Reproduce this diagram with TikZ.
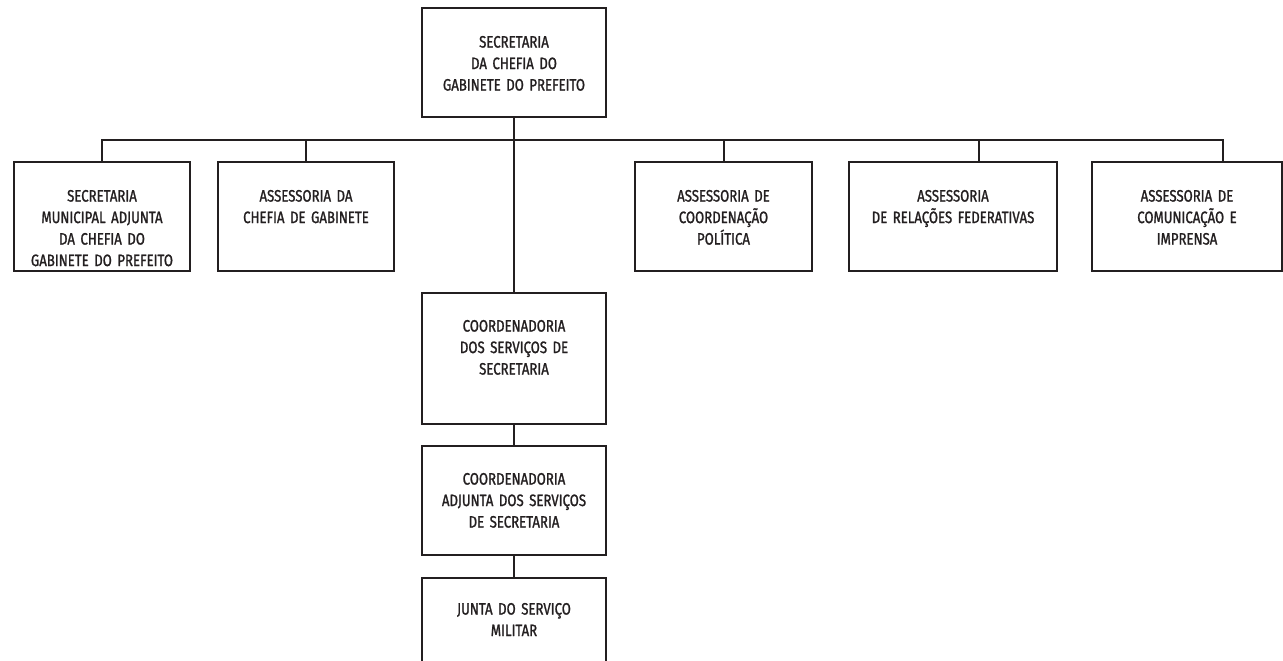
\documentclass[tikz,border=0pt]{standalone}
\usepackage{fontspec}
\setmainfont{Fira Sans}[FakeStretch=0.80, FakeBold=1.3]
\definecolor{ink}{HTML}{231F20}
\begin{document}
\begin{tikzpicture}[x=1pt,y=-1pt,
  line width=2.6pt, draw=ink, line cap=rect,
  box/.style={draw=ink, line width=2.6pt, rectangle, inner sep=0pt},
  txt/.style={anchor=north, inner sep=0pt, text width=#1, align=center,
    text=ink, font=\fontsize{16.5}{21.5}\selectfont},
  txt/.default=200pt]
\useasboundingbox (0,0) rectangle (1283,661);

% helper: a box given by its left/right/top/bottom edges
\newcommand\orgbox[5]{%
  \node[box, minimum width={#3-#2}, minimum height={#5-#4}]
    (#1) at ({(#2+#3)/2},{(#4+#5)/2}) {};}

% top unit
\orgbox{top}{422}{606}{8}{117}
\node[txt] (ttop) at ([yshift=-28pt]top.north) {SECRETARIA\\DA CHEFIA DO\\GABINETE DO PREFEITO};

% first row
\orgbox{b1}{14}{190}{162}{271}
\orgbox{b2}{218}{394}{162}{271}
\orgbox{b4}{635}{812}{162}{271}
\orgbox{b5}{849}{1057}{162}{271}
\orgbox{b6}{1092}{1282}{162}{271}

\node[txt] (t1) at ([yshift=-28pt]b1.north) {SECRETARIA\\MUNICIPAL ADJUNTA\\DA CHEFIA DO\\GABINETE DO PREFEITO};
\node[txt] (t2) at ([yshift=-28pt]b2.north) {ASSESSORIA DA\\CHEFIA DE GABINETE};
\node[txt] (t4) at ([yshift=-28pt]b4.north) {ASSESSORIA DE\\COORDENAÇÃO\\POLÍTICA};
\node[txt] (t5) at ([yshift=-28pt]b5.north) {ASSESSORIA\\DE RELAÇÕES FEDERATIVAS};
\node[txt] (t6) at ([yshift=-28pt]b6.north) {ASSESSORIA DE\\COMUNICAÇÃO E\\IMPRENSA};

% central column
\orgbox{c1}{422}{606}{293}{424}
\orgbox{c2}{422}{606}{446}{555}
\orgbox{c3}{422}{606}{578}{690}

\node[txt] (tc1) at ([yshift=-27pt]c1.north) {COORDENADORIA\\DOS SERVIÇOS DE\\SECRETARIA};
\node[txt] (tc2) at ([yshift=-27pt]c2.north) {COORDENADORIA\\ADJUNTA DOS SERVIÇOS\\DE SECRETARIA};
\node[txt] (tc3) at ([yshift=-25pt]c3.north) {JUNTA DO SERVIÇO\\MILITAR};

% bus line and drop points
\coordinate (k1) at (102,140);
\coordinate (k2) at (306,140);
\coordinate (k4) at (724,140);
\coordinate (k5) at (979,140);
\coordinate (k6) at (1223,140);

\draw (k1 |- b1.north) -- (k1) -- (k6) -- (k6 |- b6.north);
\draw (k2) -- (k2 |- b2.north);
\draw (k4) -- (k4 |- b4.north);
\draw (k5) -- (k5 |- b5.north);

\draw (top.south) -- (c1.north);
\draw (c1.south) -- (c2.north);
\draw (c2.south) -- (c3.north);
\end{tikzpicture}
\end{document}
